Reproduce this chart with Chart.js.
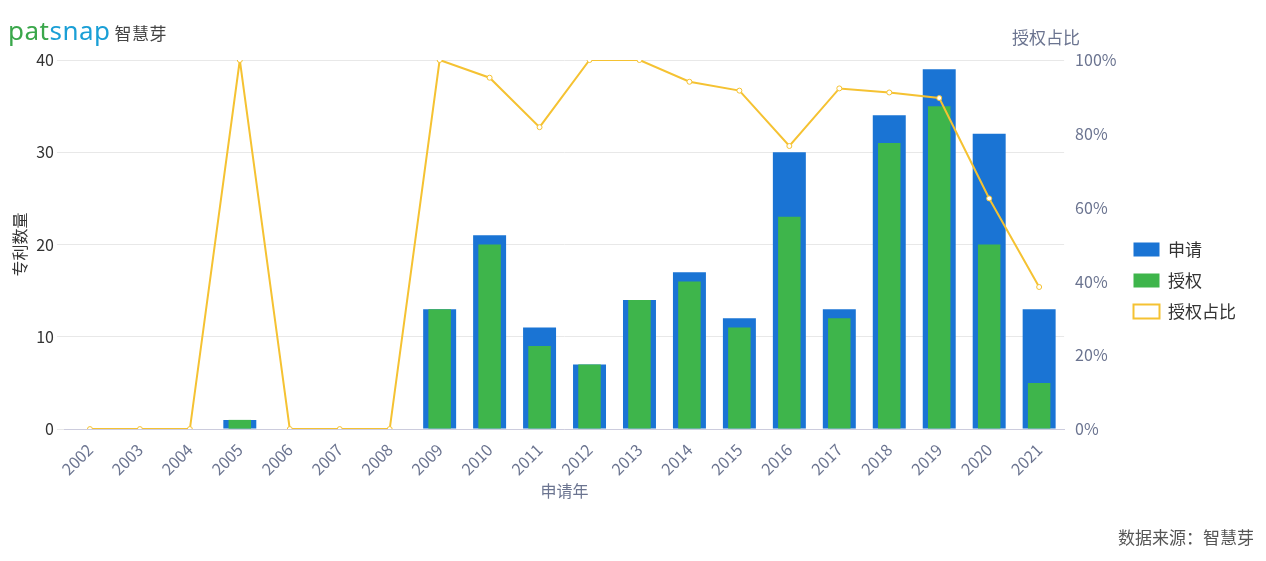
<!DOCTYPE html>
<html lang="zh">
<head>
<meta charset="UTF-8">
<title>专利数量</title>
<script src="https://cdn.jsdelivr.net/npm/chart.js@4/dist/chart.umd.min.js"></script>
<style>
  body { margin: 0; background: #fff; font-family: "Noto Sans CJK SC", "Noto Sans", sans-serif; }
  #wrap { position: relative; width: 1266px; height: 561px; }
  #logo { position: absolute; left: 8px; top: 12px; font-size: 26px; color: #3aa74b; font-family: "Noto Sans", sans-serif; letter-spacing: 0.5px; }
  #logo span { font-size: 17px; color: #444; margin-left: 4px; font-family: "Noto Sans CJK SC"; }
  #rtitle { position: absolute; left: 1012px; top: 24px; font-size: 17px; color: #6b7490; }
  #src { position: absolute; right: 12px; bottom: 12px; font-size: 17px; color: #555; }
</style>
</head>
<body>
<div id="wrap">
  <canvas id="chart" width="1266" height="561"></canvas>
  <div id="logo">pat<span style="font-size:26px;color:#1a9fd6;margin:0;font-family:'Noto Sans'">snap</span><span>智慧芽</span></div>
  <div id="rtitle">授权占比</div>
  <div id="src">数据来源：智慧芽</div>
</div>
<script>
  let years = ['2002','2003','2004','2005','2006','2007','2008','2009','2010','2011','2012','2013','2014','2015','2016','2017','2018','2019','2020','2021'];
  let applied = [0,0,0,1,0,0,0,13,21,11,7,14,17,12,30,13,34,39,32,13];
  let granted = [0,0,0,1,0,0,0,13,20,9,7,14,16,11,23,12,31,35,20,5];
  let ratio = [0,0,0,100,0,0,0,100,95.2,81.8,100,100,94.1,91.7,76.7,92.3,91.2,89.7,62.5,38.5];

  Chart.defaults.font.family = '"Noto Sans CJK SC", "Noto Sans", sans-serif';
  Chart.defaults.font.size = 16;
  Chart.defaults.color = '#6b7490';

  new Chart(document.getElementById('chart'), {
    type: 'bar',
    data: {
      labels: years,
      datasets: [
        { type: 'line', label: '授权占比', data: ratio, yAxisID: 'y1', borderColor: '#f5c232', backgroundColor: '#fff',
          borderWidth: 2, pointRadius: 2.5, pointBorderWidth: 1, tension: 0, order: 0 },
        { label: '申请', data: applied, backgroundColor: '#1a74d4', barPercentage: 0.66, categoryPercentage: 1, grouped: false, order: 2 },
        { label: '授权', data: granted, backgroundColor: '#3eb54b', barPercentage: 0.45, categoryPercentage: 1, grouped: false, order: 1 }
      ]
    },
    options: {
      responsive: false,
      animation: false,
      layout: { padding: { left: 6, top: 60, right: 20, bottom: 60 } },
      plugins: {
        legend: {
          position: 'right',
          reverse: true,
          labels: { boxWidth: 26, boxHeight: 14, padding: 14, color: '#333', font: { size: 17 } }
        },
        tooltip: { enabled: false }
      },
      scales: {
        x: {
          grid: { display: false },
          border: { color: '#ccd' },
          ticks: { maxRotation: 45, minRotation: 45, color: '#6b7490' },
          title: { display: true, text: '申请年', color: '#6b7490', padding: 0 }
        },
        y: {
          min: 0, max: 40,
          ticks: { stepSize: 10, color: '#333' },
          border: { display: false },
          grid: { color: '#e8e8e8', borderDash: [5, 5] },
          title: { display: true, text: '专利数量', color: '#333' }
        },
        y1: {
          position: 'right',
          min: 0, max: 100,
          ticks: { stepSize: 20, callback: v => v + '%', color: '#6b7490' },
          border: { display: false },
          grid: { display: false }
        }
      }
    }
  });
</script>
</body>
</html>
